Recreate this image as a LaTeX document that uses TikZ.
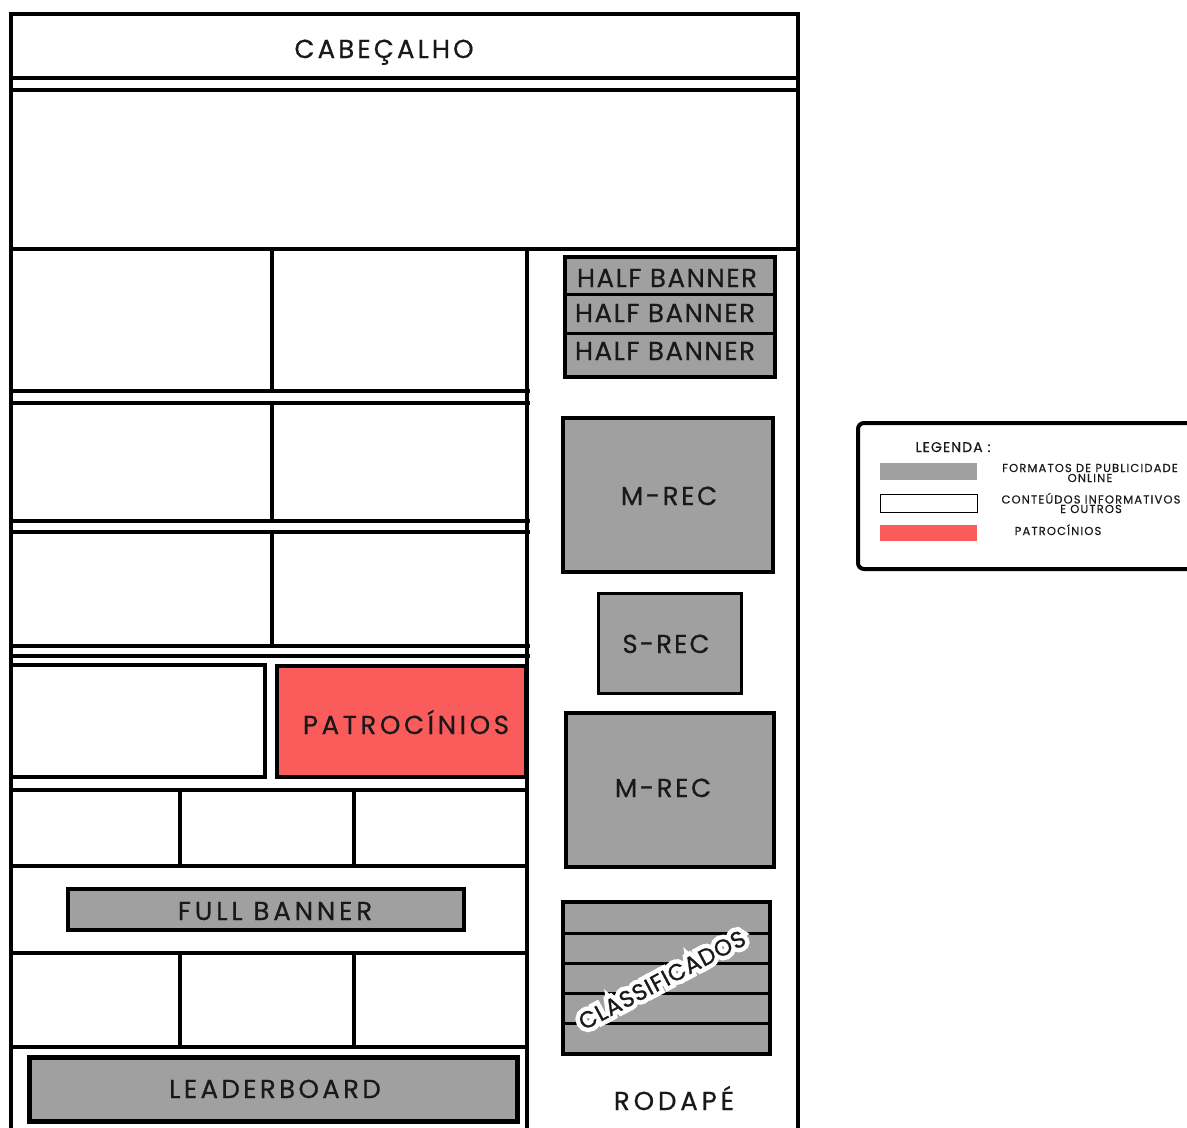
\documentclass[tikz,border=0pt]{standalone}
\usepackage{fontspec}
\setmainfont{Poppins}
\usetikzlibrary{calc}
\definecolor{adgray}{RGB}{160,160,160}
\definecolor{adred}{RGB}{250,92,92}
\definecolor{ink}{RGB}{25,25,25}
\begin{document}
\begin{tikzpicture}[x=1pt,y=-1pt,
  frame/.style={draw=black, line width=4pt},
  adbox/.style={draw=black, fill=adgray, line width=4pt},
  thinrule/.style={draw=black, line width=3pt},
  lbl/.style={font=\fontsize{26}{26}\selectfont\addfontfeatures{LetterSpace=#1,FakeBold=0.6}, text=ink, inner sep=0pt, anchor=base},
  lbl/.default=10,
  leg/.style={font=\fontsize{11.5}{11.5}\selectfont\addfontfeatures{LetterSpace=10,FakeBold=0.4}, text=ink, inner sep=0pt, anchor=base},
]
\useasboundingbox[fill=white] (0,0) rectangle (1187,1128);

% page frame
\draw[frame] (11,1128) -- (11,14) -- (798,14) -- (798,1128);
\draw[frame] (11,78) -- (798,78);
\draw[frame] (11,90) -- (798,90);
\draw[frame] (11,249) -- (800,249);
\draw[frame] (527,249) -- (527,1128);
\node[lbl=12] (cab) at (384,58) {CABEÇALHO};

% left column grid
\foreach \y in {391,403,521,532,646,656} \draw[frame] (11,\y) -- (530,\y);
\draw[frame] (272,249)--(272,391) (272,403)--(272,521) (272,532)--(272,646);
\draw[frame] (11,665) rectangle (265,777);
\draw[frame, fill=adred] (277,666) rectangle (526,777);
\node[lbl=14] (patro) at (406,734) {PATROCÍNIOS};
\draw[frame] (11,790)--(527,790) (11,866)--(527,866) (11,953)--(527,953) (11,1047)--(527,1047);
\draw[frame] (180,790)--(180,866) (354,790)--(354,866) (180,953)--(180,1047) (354,953)--(354,1047);
\draw[adbox] (68,889) rectangle (464,930);
\node[lbl=15] (full) at (275,920) {FULL BANNER};
\draw[adbox, line width=5pt] (29,1057) rectangle (517,1121);
\node[lbl=13] (leader) at (275,1098) {LEADERBOARD};

% right column
\draw[adbox] (565,257) rectangle (775,377);
\draw[thinrule] (565,294)--(775,294) (565,333)--(775,333);
\node[lbl=6] (hb1) at (667,287) {HALF BANNER};
\node[lbl=6] (hb2) at (665,322) {HALF BANNER};
\node[lbl=6] (hb3) at (665,360) {HALF BANNER};
\draw[adbox] (563,418) rectangle (773,572);
\node[lbl=10] (mrec1) at (669,505) {M-REC};
\draw[adbox, line width=3pt] (598,593) rectangle (741,693);
\node[lbl=8] (srec) at (666,653) {S-REC};
\draw[adbox] (566,713) rectangle (774,867);
\node[lbl=10] (mrec2) at (663,797) {M-REC};
\draw[adbox] (563,902) rectangle (770,1054);
\draw[thinrule] (563,933)--(770,933) (563,963)--(770,963) (563,993)--(770,993) (563,1023)--(770,1023);
\node[font=\fontsize{23}{23}\selectfont\addfontfeatures{LetterSpace=4,FakeBold=40}, text=white, inner sep=0pt, rotate=28] (classhalo) at (662,980) {CLASSIFICADOS};
\node[font=\fontsize{23}{23}\selectfont\addfontfeatures{LetterSpace=4,FakeBold=1}, text=ink, inner sep=0pt, rotate=28] (class) at (662,980) {CLASSIFICADOS};
\node[lbl=15] (rodape) at (674,1110) {RODAPÉ};

% legend
\draw[line width=4pt, rounded corners=6pt] (858,423) rectangle (1205,569);
\node[font=\fontsize{14}{14}\selectfont\addfontfeatures{LetterSpace=8,FakeBold=0.4}, text=ink, inner sep=0pt, anchor=base] (legt) at (953,452) {LEGENDA :};
\fill[adgray] (880,463) rectangle (977,480);
\draw[line width=1pt, fill=white] (880,494) rectangle (977,512);
\fill[adred] (880,525) rectangle (977,541);
\node[leg] (l1a) at (1090,472) {FORMATOS DE PUBLICIDADE};
\node[leg] (l1b) at (1090,482) {ONLINE};
\node[leg] (l2a) at (1091,503.5) {CONTEÚDOS INFORMATIVOS};
\node[leg] (l2b) at (1091,513) {E OUTROS};
\node[leg] (l3) at (1058,535) {PATROCÍNIOS};
\end{tikzpicture}
\end{document}
